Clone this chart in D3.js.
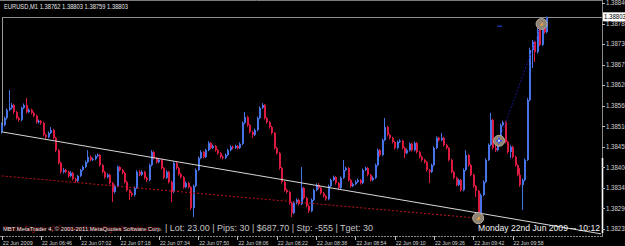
<!DOCTYPE html>
<html>
<head>
<meta charset="utf-8">
<script src="https://cdn.jsdelivr.net/npm/d3@7"></script>
<style>
html, body { margin: 0; padding: 0; background: #000; overflow: hidden; }
svg { display: block; font-family: "Liberation Sans", Arial, sans-serif; }
</style>
</head>
<body>
<div id="chart"></div>
<script>
// EURUSD M1, 22 Jun 2009 06:30 .. 10:12, prices in points (1e-5) above 1.38000
const opens = [495,513,532,554,559,567,548,532,527,559, 567,548,554,546,538,521,524,519,487,481,
  492,500,479,446,412,388,393,388,377,385, 369,364,377,393,401,414,428,420,422,430,
  433,406,388,374,380,358,334,350,401,393, 385,361,339,331,326,345,388,380,388,372,
  366,406,441,425,414,420,398,372,388,361, 334,412,398,382,374,347,358,347,291,350,
  393,425,441,428,446,465,452,457,446,438, 428,425,433,446,455,452,457,452,463,519,
  535,513,495,487,500,532,559,567,532,521, 508,492,452,438,398,361,339,334,305,278,
  305,313,302,345,318,297,283,313,339,353, 345,331,323,315,350,366,374,358,345,372,
  393,398,366,350,355,361,366,358,393,398, 380,366,372,406,446,433,473,508,487,479,
  468,452,468,471,452,438,446,463,446,465, 441,428,420,414,393,388,406,452,479,473,
  479,460,452,420,388,372,353,366,339,393, 433,406,380,350,337,272,326,361,420,460,
  527,452,446,479,513,521,468,441,455,428, 406,380,353,366,420,580,714,736,709,768,
  728,773,762];
const highs = [520,536,558,607,572,570,551,536,562,571, 586,558,557,549,541,528,527,522,490,496,
  508,503,482,449,415,398,396,391,390,388, 373,380,396,405,418,446,432,426,434,437,
  436,409,391,384,383,361,354,405,404,396, 388,364,342,335,349,392,393,392,391,375,
  410,446,444,428,424,423,401,392,391,364, 416,415,401,385,377,362,361,350,354,397,
  429,446,444,450,470,468,461,460,449,441, 432,437,450,459,458,461,460,467,523,548,
  538,516,498,504,536,563,572,570,535,524, 511,495,455,441,401,364,343,337,308,309,
  317,316,401,348,321,300,317,343,357,358, 348,334,326,354,370,378,377,361,376,420,
  402,401,369,359,365,370,369,397,402,401, 383,376,410,450,449,477,532,511,490,482,
  471,472,475,474,455,450,467,466,469,468, 444,431,423,417,396,410,456,483,482,492,
  482,463,455,423,391,375,370,369,397,446, 436,409,383,353,340,330,365,424,464,546,
  530,473,483,517,525,524,471,459,458,431, 409,398,370,424,586,720,741,739,773,771,
  778,776,803];
const lows = [490,510,528,550,555,543,528,522,524,556, 544,545,542,534,517,517,514,483,476,478,
  489,475,441,408,383,384,384,372,374,365, 359,361,374,390,398,411,416,417,419,427,
  402,384,370,371,354,307,330,347,389,381, 357,335,313,321,322,342,376,377,368,361,
  363,403,421,410,411,394,368,369,357,307, 331,394,378,370,343,344,343,286,267,347,
  390,422,424,425,443,448,449,442,434,424, 421,422,430,443,448,449,448,449,460,516,
  509,491,479,484,497,529,556,528,517,504, 488,448,434,394,357,335,330,300,267,275,
  301,298,299,314,293,278,280,310,336,341, 327,319,311,312,347,363,354,341,342,369,
  390,362,346,347,352,358,354,355,390,376, 362,363,369,403,429,430,470,483,475,464,
  448,449,465,448,425,435,443,442,443,437, 424,416,410,389,358,385,403,449,469,470,
  456,448,416,384,368,349,350,335,336,390, 402,376,346,321,259,269,323,358,417,457,
  448,441,443,476,510,464,437,425,424,402, 376,348,286,363,417,577,666,682,705,724,
  725,758,759];
const closes = [513,532,554,559,567,548,532,527,559,567, 548,554,546,538,521,524,519,487,481,492,
  500,479,446,412,388,393,388,377,385,369, 364,377,393,401,414,428,420,422,430,433,
  406,388,374,380,358,334,350,401,393,385, 361,339,331,326,345,388,380,388,372,366,
  406,441,425,414,420,398,372,388,361,334, 412,398,382,374,347,358,347,291,350,393,
  425,441,428,446,465,452,457,446,438,428, 425,433,446,455,452,457,452,463,519,535,
  513,495,487,500,532,559,567,532,521,508, 492,452,438,398,361,339,334,305,278,305,
  313,302,345,318,297,283,313,339,353,345, 331,323,315,350,366,374,358,345,372,393,
  398,366,350,355,361,366,358,393,398,380, 366,372,406,446,433,473,508,487,479,468,
  452,468,471,452,438,446,463,446,465,441, 428,420,414,393,388,406,452,479,473,479,
  460,452,420,388,372,353,366,339,393,433, 406,380,350,337,272,326,361,420,460,527,
  452,446,479,513,521,468,441,455,428,406, 380,353,366,420,580,714,736,709,768,728,
  773,762,803];

const timeTickIdx = [0,16,32,48,64,80,96,112,128,144,160,176,192,208];
const timeLabels = ["22 Jun 2009","22 Jun 06:46","22 Jun 07:02","22 Jun 07:18","22 Jun 07:34",
  "22 Jun 07:50","22 Jun 08:06","22 Jun 08:22","22 Jun 08:38","22 Jun 08:54","22 Jun 09:10",
  "22 Jun 09:26","22 Jun 09:42","22 Jun 09:58"];
const priceTicks = [1.38840,1.38785,1.38730,1.38675,1.38620,1.38565,1.38510,1.38455,1.38400,1.38345,1.38290,1.38235];
const lastPrice = 1.38803;

// drawn objects: [bar index, price]
const trendLine = [[0, 1.38495], [244, 1.38222]];
const redDotLine = [[0, 1.38377], [194, 1.38264]];
const blueDotLine = [[202.5, 1.38471], [219.6, 1.38781]];
const markers = [[194, 1.38264, "arrow"], [202.5, 1.38471, "star"], [219.8, 1.38784, "arrow"]];

const W = 625, H = 246;
const bull = "#4673e6", bear = "#dc1a40";
const px = v => 1.38 + v / 1e5;

const x = d3.scaleLinear().domain([0, 244]).range([1.7, 601]);
const y = d3.scaleLinear().domain([1.38235, 1.38840]).range([229, 3]);

const svg = d3.select("#chart").append("svg")
    .attr("width", W)
    .attr("height", H)

svg.append("rect").attr("width", W).attr("height", H).attr("fill", "#000")

// frame
svg.append("line").attr("x1", 0).attr("x2", 602).attr("y1", 0.5).attr("y2", 0.5).attr("stroke", "#7c7c7c")
svg.append("line").attr("x1", 602.5).attr("x2", 602.5).attr("y1", 0).attr("y2", 237).attr("stroke", "#8a8a8a")
svg.append("line").attr("x1", 602.5).attr("x2", 602.5).attr("y1", 158).attr("y2", 233).attr("stroke", "#fff").attr("stroke-width", 1.6)
svg.append("line").attr("x1", 0).attr("x2", 603).attr("y1", 236.5).attr("y2", 236.5)
    .attr("stroke", "#8a8a8a").attr("stroke-dasharray", "2,1")
svg.append("line").attr("x1", 2.5).attr("x2", 2.5).attr("y1", 17).attr("y2", 132).attr("stroke", "#9a9a9a")

// bid line
svg.append("line").attr("x1", 2).attr("x2", 602).attr("y1", Math.round(y(lastPrice)) + 0.5).attr("y2", Math.round(y(lastPrice)) + 0.5)
    .attr("stroke", "#8c8c8c")

// price axis
const ya = svg.append("g").selectAll("g").data(priceTicks).enter().append("g")
ya.append("line")
    .attr("x1", 602).attr("x2", 605)
    .attr("y1", d => Math.round(y(d)) + 0.5).attr("y2", d => Math.round(y(d)) + 0.5)
    .attr("stroke", "#bbb")
ya.append("text")
    .attr("x", 606).attr("y", d => y(d) + 2.3)
    .attr("font-size", 6.3).attr("fill", "#cfcfcf")
    .attr("textLength", 22).attr("lengthAdjust", "spacingAndGlyphs")
    .text(d => d.toFixed(5))

svg.append("rect").attr("x", 603).attr("y", y(lastPrice) - 4.5).attr("width", 22).attr("height", 9).attr("fill", "#fff")
svg.append("text").attr("x", 604).attr("y", y(lastPrice) + 2.3)
    .attr("font-size", 6.3).attr("fill", "#000")
    .attr("textLength", 22).attr("lengthAdjust", "spacingAndGlyphs")
    .text(lastPrice.toFixed(5))

// time axis
const xa = svg.append("g").selectAll("g").data(timeTickIdx).enter().append("g")
xa.append("line")
    .attr("x1", d => Math.round(x(d)) + 0.5).attr("x2", d => Math.round(x(d)) + 0.5)
    .attr("y1", 236).attr("y2", 240)
    .attr("stroke", "#bbb")
xa.append("text")
    .attr("x", d => x(d) + 1).attr("y", 245)
    .attr("font-size", 6.2).attr("fill", "#d4d4d4")
    .attr("textLength", 30).attr("lengthAdjust", "spacingAndGlyphs")
    .text((d, i) => timeLabels[i])

// candles
const bars = svg.append("g").selectAll("g").data(d3.range(closes.length)).enter().append("g")
    .attr("fill", i => closes[i] >= opens[i] ? bull : bear)
bars.append("rect")
    .attr("x", i => Math.floor(x(i)))
    .attr("y", i => y(px(highs[i])))
    .attr("width", 1)
    .attr("height", i => Math.max(1, y(px(lows[i])) - y(px(highs[i]))))
bars.append("rect")
    .attr("x", i => Math.floor(x(i)))
    .attr("y", i => y(px(Math.max(opens[i], closes[i]))))
    .attr("width", 2)
    .attr("height", i => Math.max(1, Math.abs(y(px(opens[i])) - y(px(closes[i])))))

// lines
const line = d3.line().x(d => x(d[0])).y(d => y(d[1]))
svg.append("path").attr("d", line(redDotLine)).attr("fill", "none")
    .attr("stroke", "#c0141c").attr("stroke-dasharray", "2,2")
svg.append("path").attr("d", line(blueDotLine)).attr("fill", "none")
    .attr("stroke", "#1a1ab0").attr("stroke-dasharray", "1.5,2")
svg.append("path").attr("d", line(trendLine)).attr("fill", "none")
    .attr("stroke", "#d8d8d8").attr("stroke-width", 1)

svg.append("line").attr("x1", x(202.5) - 2).attr("x2", x(202.5) + 3)
    .attr("y1", y(1.38778)).attr("y2", y(1.38778)).attr("stroke", "#2040d0").attr("stroke-width", 1.2)

// markers
const mk = svg.append("g").selectAll("g").data(markers).enter().append("g")
    .attr("transform", d => `translate(${x(d[0])},${y(d[1])})`)
mk.append("circle").attr("r", 5.5).attr("fill", "#8f8474").attr("stroke", "#b4aa9a").attr("stroke-width", 1)
mk.filter(d => d[2] === "arrow").append("path")
    .attr("d", "M-2,2 L1,-2 L2,1 Z").attr("fill", "#f0a040")
mk.filter(d => d[2] === "star").append("path")
    .attr("d", "M-3,0 L3,0 M0,-3 L0,3").attr("stroke", "#3050ff").attr("stroke-width", 1.5)
mk.filter(d => d[2] === "star").append("circle").attr("r", 1).attr("fill", "#fff")

// header
svg.append("text").attr("x", 4).attr("y", 8.5)
    .attr("font-size", 7).attr("fill", "#e8e8e8")
    .attr("textLength", 124).attr("lengthAdjust", "spacingAndGlyphs")
    .text("EURUSD,M1  1.38762 1.38803 1.38759 1.38803")

// footer texts
svg.append("text").attr("x", 3).attr("y", 231)
    .attr("font-size", 8).attr("fill", "#8a0c14")
    .attr("textLength", 156).attr("lengthAdjust", "spacingAndGlyphs")
    .text("Trade Signal v2 © www.ForexSignalLeads.com")
svg.append("text").attr("x", 3).attr("y", 231)
    .attr("font-size", 6).attr("fill", "#e4e4e4")
    .attr("textLength", 159).attr("lengthAdjust", "spacingAndGlyphs")
    .text("MBT MetaTrader 4, © 2001-2011 MetaQuotes Software Corp.")
svg.append("text").attr("x", 165).attr("y", 231)
    .attr("font-size", 9).attr("fill", "#c4c4c4")
    .attr("textLength", 208).attr("lengthAdjust", "spacingAndGlyphs")
    .text("| Lot: 23.00 | Pips: 30 | $687.70 | Stp: -555 | Tget: 30")
svg.append("text").attr("x", 478).attr("y", 231)
    .attr("font-size", 9.5).attr("fill", "#f2f2f2")
    .attr("textLength", 122).attr("lengthAdjust", "spacingAndGlyphs")
    .text("Monday 22nd Jun 2009 -- 10:12")
</script>
</body>
</html>
